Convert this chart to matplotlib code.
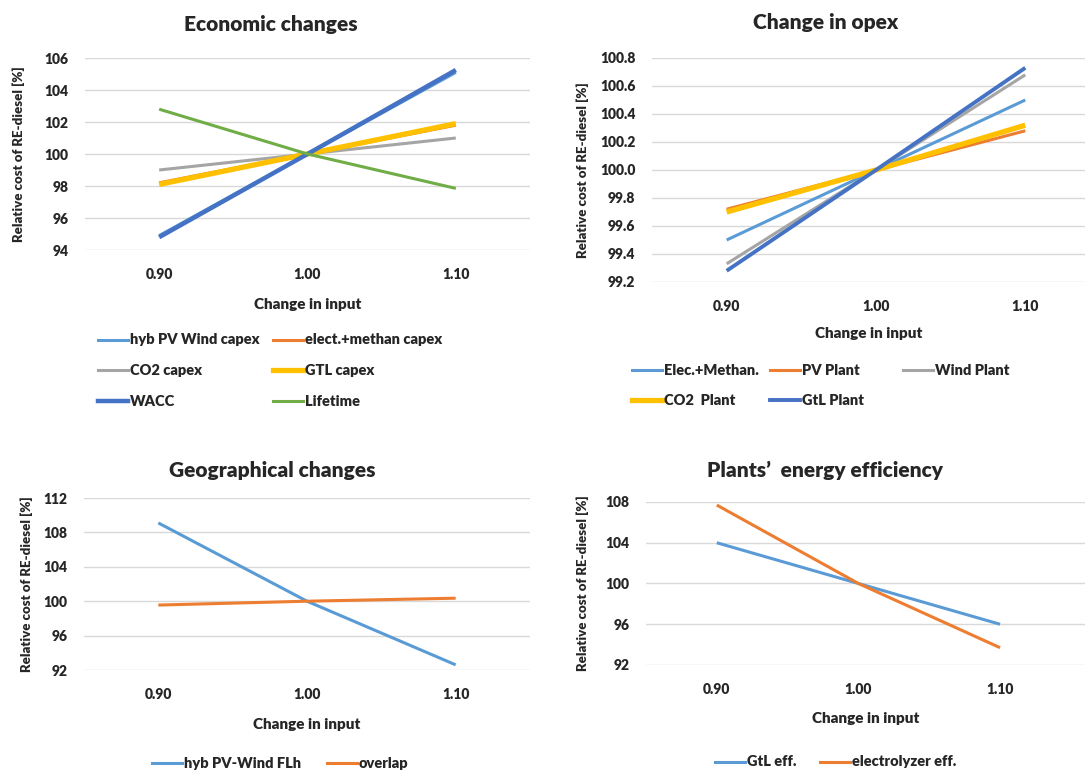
import matplotlib
matplotlib.use("Agg")
import matplotlib.pyplot as plt
from matplotlib.lines import Line2D

plt.rcParams['font.family'] = ['Lato', 'DejaVu Sans']

x_labels = ["0.90", "1.00", "1.10"]

# Economic changes
eco_names = ["hyb PV Wind capex", "elect.+methan capex", "CO2 capex", "GTL capex", "WACC", "Lifetime"]
eco_vals = [
    [94.9, 100.0, 105.1],
    [98.2, 100.0, 101.8],
    [99.0, 100.0, 101.0],
    [98.1, 100.0, 101.9],
    [94.8, 100.0, 105.25],
    [102.8, 100.0, 97.85],
]
eco_ticks = [94, 96, 98, 100, 102, 104, 106]

# Change in opex
opex_names = ["Elec.+Methan.", "PV Plant", "Wind Plant", "CO2  Plant", "GtL Plant"]
opex_vals = [
    [99.5, 100.0, 100.5],
    [99.72, 100.0, 100.28],
    [99.33, 100.0, 100.68],
    [99.7, 100.0, 100.32],
    [99.28, 100.0, 100.73],
]
opex_ticks = [99.2, 99.4, 99.6, 99.8, 100.0, 100.2, 100.4, 100.6, 100.8]

# Geographical changes
geo_names = ["hyb PV-Wind FLh", "overlap"]
geo_vals = [
    [109.1, 100.0, 92.6],
    [99.55, 100.0, 100.35],
]
geo_ticks = [92, 96, 100, 104, 108, 112]

# Plants' energy efficiency
eff_names = ["GtL eff.", "electrolyzer eff."]
eff_vals = [
    [104.0, 100.0, 96.0],
    [107.7, 100.0, 93.7],
]
eff_ticks = [92, 96, 100, 104, 108]

colors = ["#5B9BD5", "#ED7D31", "#A5A5A5", "#FFC000", "#4472C4", "#70AD47"]
txt = '#262626'

W, H = 1085, 771
fig = plt.figure(figsize=(W / 100, H / 100), dpi=100)


def px_axes(left, right, top, bottom):
    return fig.add_axes([left / W, 1 - bottom / H, (right - left) / W, (bottom - top) / H])


def style(ax, ticks, xlim, fmt, ylab_x, xlab_y_px, bottom_px, height_px):
    ax.set_xlim(*xlim)
    ax.set_ylim(ticks[0], ticks[-1])
    ax.set_yticks(ticks)
    ax.set_yticklabels([fmt.format(t) for t in ticks])
    ax.set_xticks(range(3))
    ax.set_xticklabels(x_labels)
    for s in ax.spines.values():
        s.set_visible(False)
    ax.grid(axis='y', color='#D9D9D9', linewidth=1)
    ax.set_axisbelow(True)
    ax.tick_params(length=0, labelsize=10, colors=txt, pad=12)
    ax.tick_params(axis='x', pad=13)
    for lab in ax.get_xticklabels() + ax.get_yticklabels():
        lab.set_fontweight('heavy')
    ax.set_ylabel("Relative cost of RE-diesel [%]", fontsize=9.5, fontweight='heavy', color=txt)
    ax.yaxis.set_label_coords(ylab_x, 0.5)
    ax.set_xlabel("Change in input", fontsize=11, fontweight='heavy', color=txt)
    ax.xaxis.set_label_coords(0.5, -(xlab_y_px - bottom_px) / height_px)


def legend(names, cols, rows, order_colors, widths):
    k = 0
    for r in rows:
        for c in cols:
            if k >= len(names):
                return
            y = 1 - r / H
            fig.add_artist(Line2D([c / W, (c + 30) / W], [y, y], color=order_colors[k],
                                  lw=widths[k], transform=fig.transFigure))
            fig.text((c + 32) / W, y, names[k], fontsize=10.5, fontweight='heavy',
                     color=txt, va='center', ha='left')
            k += 1


def title(x, y, s):
    fig.text(x / W, 1 - y / H, s, fontsize=15, fontweight='heavy',
             color=txt, ha='center', va='center')


# panel 1
ax1 = px_axes(85, 530, 58, 250)
w1 = [2.2, 2.2, 2.2, 3.8, 3.2, 2.2]
for i, v in enumerate(eco_vals):
    ax1.plot(range(3), v, color=colors[i], lw=w1[i], solid_capstyle='butt')
style(ax1, eco_ticks, (-0.5, 2.5), "{:.0f}", -0.135, 298, 250, 192)
title(271, 25, "Economic changes")
legend(eco_names, [98, 273], [340, 370, 401], colors, w1)

# panel 2
ax2 = px_axes(652, 1085, 58, 282)
w2 = [2.2, 2.2, 2.2, 3.8, 2.8]
for i, v in enumerate(opex_vals):
    ax2.plot(range(3), v, color=colors[i], lw=w2[i], solid_capstyle='butt')
style(ax2, opex_ticks, (-0.5, 2.4), "{:.1f}", -0.145, 327, 282, 224)
title(826, 23, "Change in opex")
legend(opex_names, [632, 770, 903], [370, 400], colors, w2)

# panel 3
ax3 = px_axes(84, 530, 498, 670)
for i, v in enumerate(geo_vals):
    ax3.plot(range(3), v, color=colors[i], lw=2.2, solid_capstyle='butt')
style(ax3, geo_ticks, (-0.5, 2.5), "{:.0f}", -0.115, 718, 670, 172)
title(272, 470, "Geographical changes")
legend(geo_names, [152, 327], [763], colors, [2.2, 2.2])

# panel 4
ax4 = px_axes(646, 1085, 502, 665)
for i, v in enumerate(eff_vals):
    ax4.plot(range(3), v, color=colors[i], lw=2.2, solid_capstyle='butt')
style(ax4, eff_ticks, (-0.5, 2.6), "{:.0f}", -0.13, 712, 665, 163)
title(825, 470, "Plants\u2019  energy efficiency")
legend(eff_names, [715, 820], [762], colors, [2.2, 2.2])

fig.savefig("out.png", dpi=100, facecolor='white')
